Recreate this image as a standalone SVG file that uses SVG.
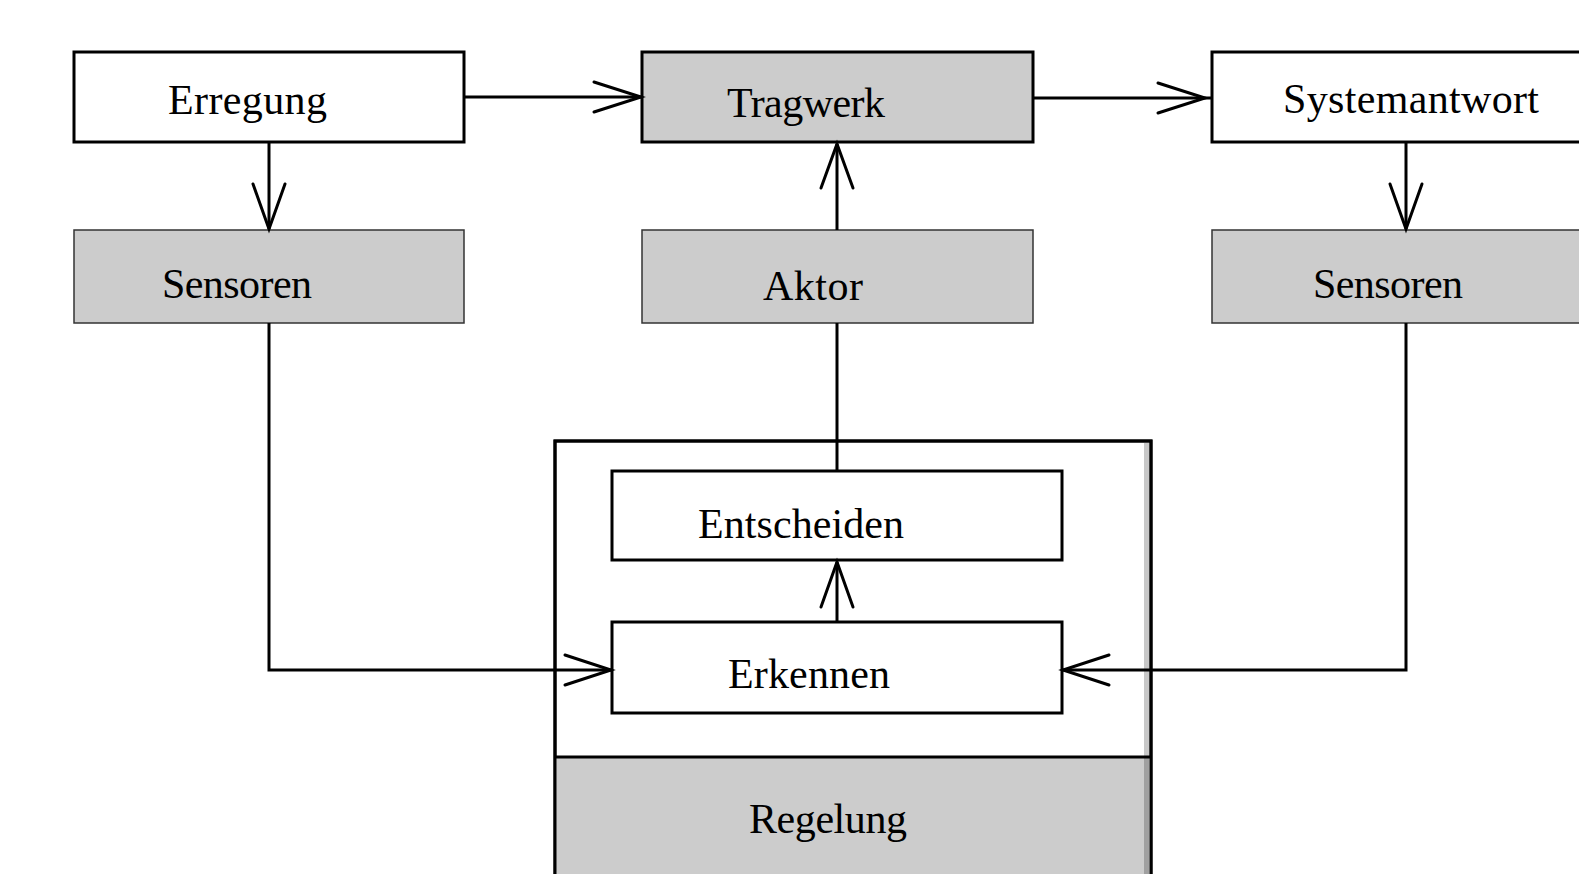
<svg xmlns="http://www.w3.org/2000/svg" width="1579" height="874" viewBox="0 0 1579 874">
<style>
.lbl{font-family:"Liberation Serif","DejaVu Serif",serif;font-size:42px;fill:#000}
.thick{stroke:#000;stroke-width:3}
.thin{stroke:#333;stroke-width:1.5}
.white{fill:#fff}
.gray{fill:#cccccc}
.conn{fill:none;stroke:#000;stroke-width:3}
.head{fill:none;stroke:#000;stroke-width:3;stroke-linecap:round;stroke-linejoin:miter}
</style>
<rect width="1579" height="874" fill="#fff"/>
<g id="regelung">
<rect x="555" y="441" width="596" height="440" fill="#fff" class="thick"/>
<rect x="556" y="757" width="594" height="120" class="gray"/>
<rect x="1144" y="443" width="5" height="313" fill="#c8c8c8"/>
<rect x="1144" y="758" width="5" height="116" fill="#a0a0a0"/>
<line x1="555" y1="757" x2="1151" y2="757" class="thick"/>
<rect x="555" y="441" width="596" height="440" fill="none" class="thick"/>
<text class="lbl" x="749" y="833" textLength="158">Regelung</text>
</g>
<g id="erregung">
<rect x="74" y="52" width="390" height="90" class="white thick"/>
<text class="lbl" x="168" y="114" textLength="159">Erregung</text>
</g>
<g id="tragwerk">
<rect x="642" y="52" width="391" height="90" class="gray thick"/>
<text class="lbl" x="727" y="117" textLength="158">Tragwerk</text>
</g>
<g id="systemantwort">
<rect x="1212" y="52" width="400" height="90" class="white thick"/>
<text class="lbl" x="1283" y="113" textLength="256">Systemantwort</text>
</g>
<g id="sensoren-links">
<rect x="74" y="230" width="390" height="93" class="gray thin"/>
<text class="lbl" x="162" y="298" textLength="150">Sensoren</text>
</g>
<g id="aktor">
<rect x="642" y="230" width="391" height="93" class="gray thin"/>
<text class="lbl" x="763" y="300" textLength="100">Aktor</text>
</g>
<g id="sensoren-rechts">
<rect x="1212" y="230" width="400" height="93" class="gray thin"/>
<text class="lbl" x="1313" y="298" textLength="150">Sensoren</text>
</g>
<g id="entscheiden">
<rect x="612" y="471" width="450" height="89" class="white thick"/>
<text class="lbl" x="698" y="538" textLength="206">Entscheiden</text>
</g>
<g id="erkennen">
<rect x="612" y="622" width="450" height="91" class="white thick"/>
<text class="lbl" x="728" y="688" textLength="162">Erkennen</text>
</g>
<g id="connectors">
<line x1="464" y1="97" x2="641" y2="97" class="conn"/>
<polyline points="594,82 641,97 594,112" class="head"/>
<line x1="1033" y1="98" x2="1211" y2="98" class="conn"/>
<polyline points="1158,83 1205,98 1158,113" class="head"/>
<line x1="269" y1="142" x2="269" y2="229" class="conn"/>
<polyline points="253,184 269,229 285,184" class="head"/>
<line x1="1406" y1="142" x2="1406" y2="229" class="conn"/>
<polyline points="1390,184 1406,229 1422,184" class="head"/>
<line x1="837" y1="230" x2="837" y2="144" class="conn"/>
<polyline points="821,188 837,144 853,188" class="head"/>
<line x1="837" y1="323" x2="837" y2="471" class="conn"/>
<line x1="837" y1="622" x2="837" y2="562" class="conn"/>
<polyline points="821,607 837,562 853,607" class="head"/>
<polyline points="269,323 269,670 611,670" class="conn"/>
<polyline points="565,655 611,670 565,685" class="head"/>
<polyline points="1406,323 1406,670 1063,670" class="conn"/>
<polyline points="1109,655 1063,670 1109,685" class="head"/>
</g>
</svg>
